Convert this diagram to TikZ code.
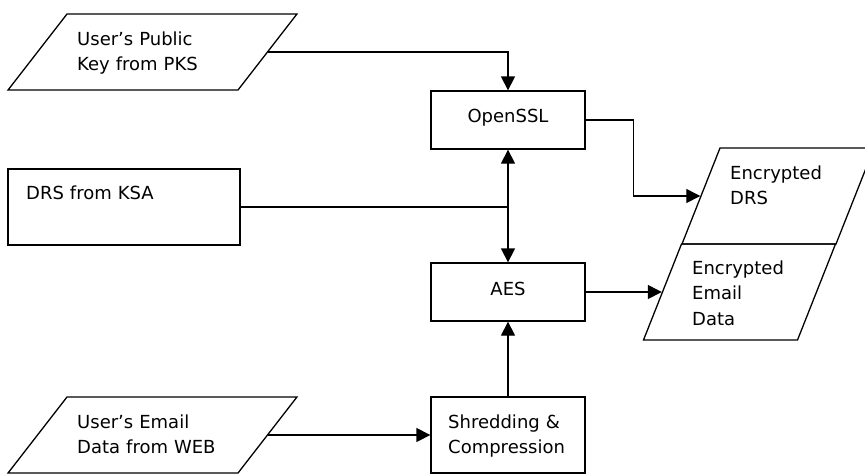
\documentclass[tikz,border=0pt]{standalone}
\usepackage{fontspec}
\setmainfont{DejaVu Sans}
\usetikzlibrary{shapes.geometric,arrows.meta}

\tikzset{
  box/.style={draw, line width=1.3pt, minimum width=154pt, inner sep=0pt},
  slant/.style={draw, line width=1.3pt, trapezium},
  txt/.style={font=\fontsize{18}{25.5}\selectfont, inner sep=0pt, text width=160pt, align=left, anchor=base west},
  ctxt/.style={font=\fontsize{18}{25.5}\selectfont, inner sep=0pt, anchor=base},
  arr/.style={line width=1.3pt, -{Triangle[length=14pt,width=14pt]}},
}

\begin{document}
\begin{tikzpicture}[x=1pt, y=-1pt]
    \useasboundingbox (0,0) rectangle (865,475);
    % inputs
    \node[slant, trapezium left angle=52.2, trapezium right angle=127.8,
        inner xsep=85.5pt, inner ysep=38pt] (pks) at (152.5,52) {};
    \node[box, minimum width=232pt, minimum height=76pt] (drs) at (124,207) {};
    \node[slant, trapezium left angle=52.2, trapezium right angle=127.8,
        inner xsep=85.5pt, inner ysep=38pt] (web) at (152.5,435) {};
    % processing
    \node[box, minimum height=58pt] (openssl) at (508,120) {};
    \node[box, minimum height=58pt] (aes) at (508,292) {};
    \node[box, minimum height=76pt] (shred) at (508,435) {};
    % outputs
    \node[slant, trapezium left angle=68.4, trapezium right angle=111.6,
        inner xsep=58pt, inner ysep=48pt] (encdrs) at (778,196) {};
    \node[slant, trapezium left angle=68.4, trapezium right angle=111.6,
        inner xsep=58pt, inner ysep=48pt] (encmail) at (739.5,292) {};

    % labels
    \node[txt] (pks text) at (77,45) {User's Public\\Key from PKS};
    \node[txt] (drs text) at (26,199) {DRS from KSA};
    \node[txt] (web text) at (77,428) {User's Email\\Data from WEB};
    \node[ctxt] (openssl text) at (508,122) {OpenSSL};
    \node[ctxt] (aes text) at (508,295) {AES};
    \node[txt] (shred text) at (448,428) {Shredding \&\\Compression};
    \node[txt] (encdrs text) at (730,179) {Encrypted\\DRS};
    \node[txt] (encmail text) at (692,274) {Encrypted\\Email\\Data};

    % connectors
    \draw[arr] (pks.right side) -| (openssl.north);
    \draw[arr] (openssl.east) -- ++(48,0) |- (encdrs.left side);
    \draw[line width=1.3pt] (drs.east) -- (drs.east -| openssl.south);
    \draw[arr, {Triangle[length=14pt,width=14pt]}-{Triangle[length=14pt,width=14pt]}]
        (openssl.south) -- (aes.north);
    \draw[arr] (aes.east) -- (encmail.left side);
    \draw[arr] (web.right side) -- (shred.west);
    \draw[arr] (shred.north) -- (aes.south);
\end{tikzpicture}
\end{document}
